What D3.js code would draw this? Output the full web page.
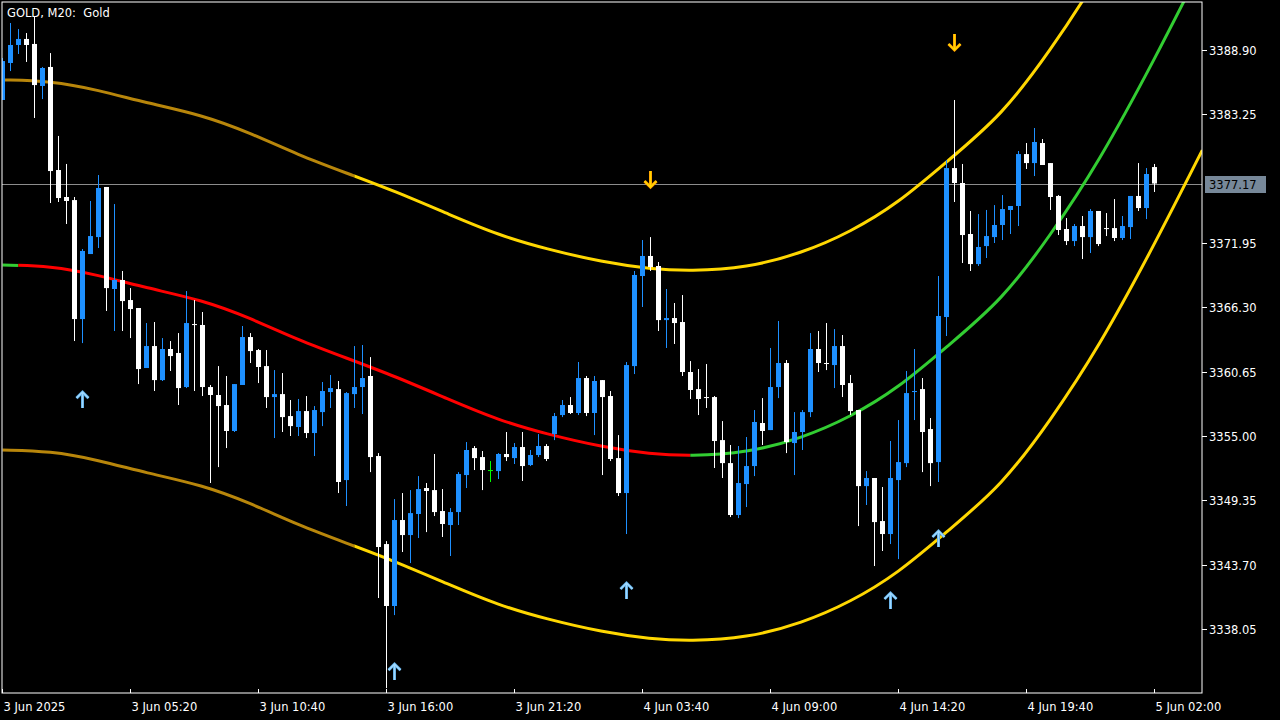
<!DOCTYPE html>
<html><head><meta charset="utf-8">
<script src="https://cdn.jsdelivr.net/npm/d3@7"></script>
<style>html,body{margin:0;background:#000;overflow:hidden}</style>
</head><body><svg id="c" width="1280" height="720"></svg>
<script>
const timeLabels = ["3 Jun 2025","3 Jun 05:20","3 Jun 10:40","3 Jun 16:00","3 Jun 21:20","4 Jun 03:40","4 Jun 09:00","4 Jun 14:20","4 Jun 19:40","5 Jun 02:00"];
const priceTicks = [3388.90,3383.25,3371.95,3366.30,3360.65,3355.00,3349.35,3343.70,3338.05];
const lastPrice = 3377.17;
const ohlc = [
[3384.51,3388.20,3384.51,3387.93],[3387.76,3391.27,3387.05,3389.34],[3389.34,3390.74,3388.55,3389.87],[3389.87,3390.39,3387.85,3389.34],
[3389.43,3391.88,3382.93,3385.82],[3385.74,3387.41,3384.59,3387.32],[3387.41,3388.63,3375.46,3378.27],[3378.36,3381.35,3375.55,3375.90],
[3375.99,3378.89,3373.62,3375.64],[3375.72,3375.99,3363.34,3365.27],[3365.27,3371.42,3363.16,3371.25],[3370.98,3375.64,3370.98,3372.56],
[3372.47,3377.92,3371.51,3376.78],[3376.87,3376.87,3365.98,3367.99],[3367.91,3375.37,3364.22,3368.70],[3368.70,3369.49,3364.22,3366.85],
[3366.94,3367.99,3363.60,3366.15],[3366.24,3366.24,3359.56,3360.88],[3360.97,3364.92,3360.97,3362.90],[3362.90,3365.01,3358.95,3359.91],
[3359.91,3363.60,3359.83,3362.64],[3362.64,3363.34,3360.71,3362.02],[3362.29,3364.04,3357.72,3359.21],[3359.30,3367.73,3359.21,3364.92],
[3364.83,3366.94,3358.95,3364.75],[3364.75,3365.89,3358.51,3359.30],[3359.30,3359.48,3350.87,3358.60],[3358.60,3361.14,3352.27,3357.63],
[3357.72,3360.27,3353.94,3355.44],[3355.44,3359.56,3355.35,3359.56],[3359.48,3364.66,3359.48,3363.69],[3363.69,3364.04,3361.41,3362.46],
[3362.55,3362.64,3359.65,3361.06],[3361.14,3362.55,3357.46,3358.42],[3358.42,3360.79,3354.82,3358.68],[3358.68,3360.53,3355.35,3356.66],
[3356.75,3358.16,3355.00,3355.87],[3355.79,3358.25,3355.00,3357.19],[3357.19,3358.51,3354.82,3355.26],[3355.26,3357.63,3353.24,3357.28],
[3357.10,3359.74,3355.87,3358.95],[3358.86,3360.36,3357.46,3359.21],[3359.12,3359.83,3349.99,3350.96],[3351.13,3358.86,3348.85,3358.77],
[3358.68,3362.90,3357.46,3359.30],[3359.30,3362.99,3356.93,3360.09],[3360.27,3361.93,3351.83,3353.15],[3353.24,3353.50,3340.77,3345.25],
[3345.51,3345.77,3332.86,3340.07],[3340.07,3349.46,3339.27,3347.62],[3347.62,3349.99,3344.81,3346.30],[3346.30,3350.25,3343.84,3348.23],
[3348.15,3351.48,3346.04,3350.34],[3350.43,3350.87,3346.56,3350.17],[3350.25,3353.42,3347.97,3348.32],[3348.41,3350.34,3346.13,3347.27],
[3347.18,3348.67,3344.46,3348.32],[3348.32,3351.83,3347.18,3351.66],[3351.57,3354.47,3350.43,3353.77],[3353.94,3354.12,3352.01,3353.06],
[3353.15,3353.68,3350.25,3352.01],[3352.01,3352.80,3350.96,3352.01],[3351.92,3353.50,3351.22,3353.42],[3353.42,3355.35,3352.80,3353.15],
[3353.06,3354.38,3352.54,3354.03],[3354.03,3355.35,3351.05,3352.36],[3352.45,3353.77,3352.36,3353.33],[3353.33,3355.17,3353.15,3354.12],
[3354.12,3354.29,3352.80,3352.98],[3355.17,3357.02,3354.64,3356.75],[3356.84,3358.16,3356.66,3357.72],[3357.72,3358.42,3356.93,3357.02],
[3357.02,3361.50,3356.84,3360.09],[3360.09,3360.27,3356.75,3357.02],[3357.02,3360.27,3355.08,3359.83],[3359.91,3359.91,3351.57,3358.42],
[3358.51,3358.95,3352.80,3352.98],[3353.06,3355.08,3349.73,3349.99],[3349.99,3361.50,3346.39,3361.23],[3361.14,3369.49,3360.44,3369.14],
[3369.05,3372.21,3366.33,3370.81],[3370.81,3372.47,3369.49,3369.84],[3369.93,3370.28,3364.22,3365.18],[3365.18,3367.91,3362.73,3365.36],
[3365.36,3366.68,3363.08,3364.92],[3365.01,3367.38,3360.27,3360.62],[3360.62,3361.58,3358.25,3359.04],[3359.12,3360.88,3356.84,3358.25],
[3358.42,3361.32,3357.46,3358.42],[3358.42,3358.51,3352.19,3354.56],[3354.64,3356.31,3351.31,3352.62],[3352.62,3354.21,3347.88,3348.06],
[3348.06,3354.12,3347.79,3350.87],[3350.78,3354.91,3348.76,3352.36],[3352.36,3357.28,3351.48,3356.23],[3356.14,3358.33,3354.21,3355.44],
[3355.52,3362.73,3355.52,3359.30],[3359.30,3365.10,3358.33,3361.41],[3361.41,3361.67,3353.50,3354.47],[3354.38,3357.10,3351.57,3355.35],
[3355.35,3357.28,3353.77,3357.10],[3357.10,3364.04,3356.66,3362.64],[3362.64,3364.22,3360.62,3361.41],[3361.41,3364.92,3360.79,3361.41],
[3361.23,3364.39,3359.21,3362.90],[3362.90,3363.87,3358.42,3359.48],[3359.65,3360.36,3356.84,3357.19],[3357.28,3357.28,3347.09,3350.60],
[3350.60,3351.92,3348.94,3351.31],[3351.31,3351.31,3343.58,3347.44],[3347.53,3350.52,3344.90,3346.39],[3346.39,3354.56,3345.51,3351.31],
[3351.13,3356.40,3344.19,3352.71],[3352.62,3360.71,3352.27,3358.77],[3358.86,3362.64,3356.40,3358.95],[3359.12,3360.09,3351.83,3355.35],
[3355.61,3356.58,3350.60,3352.62],[3352.71,3369.05,3350.96,3365.54],[3365.45,3379.24,3363.78,3378.53],[3378.53,3384.51,3375.55,3377.22],
[3377.22,3378.89,3370.19,3372.65],[3372.74,3374.76,3369.49,3370.10],[3370.10,3374.49,3369.93,3371.60],[3371.68,3374.85,3370.63,3372.56],
[3372.47,3375.28,3371.95,3373.53],[3373.53,3376.16,3372.21,3374.93],[3374.85,3375.20,3372.74,3375.20],[3375.20,3380.03,3373.44,3379.76],
[3379.76,3380.73,3378.45,3378.97],[3378.97,3382.05,3377.83,3380.82],[3380.73,3381.08,3378.80,3378.80],[3378.97,3378.97,3374.85,3375.99],
[3376.08,3376.16,3372.65,3373.09],[3373.18,3374.14,3371.77,3372.12],[3372.12,3373.62,3371.68,3373.44],[3373.44,3374.32,3370.54,3372.47],
[3372.47,3374.93,3371.07,3374.76],[3374.76,3374.76,3371.68,3371.86],[3373.26,3374.58,3372.56,3373.26],[3373.26,3375.81,3372.12,3372.39],
[3372.39,3374.32,3372.21,3373.44],[3373.35,3376.08,3372.30,3376.08],[3376.08,3378.97,3374.76,3375.02],[3375.02,3378.53,3374.05,3378.01],
[3378.62,3378.89,3376.43,3377.17]
];
const centerBars = [0,6,12,18,25,31,37,43,49,56,62,68,75,81,86,93,100,106,112,118,125,131,137,144,150];
const centerVals = [3370.02,3369.93,3369.14,3368.00,3366.94,3365.36,3363.43,3361.85,3360.27,3358.16,3356.40,3355.17,3354.03,3353.42,3353.24,3353.50,3354.82,3356.66,3359.21,3362.81,3366.94,3372.60,3378.97,3388.02,3396.36];
const bandDev = 16.25;
const upArrowBars = [10,49,78,111,117];
const downArrowBars = [81,119];

const svg = d3.select("#c");
const L=2, T=2, R=1202, B=693;
const x = d3.scaleLinear().domain([0,150]).range([2.3,1202.3]);
const y = d3.scaleLinear().domain([3338.05,3388.90]).range([629,50]);
const font = "DejaVu Sans, sans-serif";

svg.append("defs").append("clipPath").attr("id","plot").append("rect").attr("x",L).attr("y",T).attr("width",R-L).attr("height",B-T);
const segs = [[0,2,"#32cd32",0],[2,86,"#ff0000",0],[86,150,"#32cd32",0],[0,44,"#b8860b",1],[44,150,"#ffd700",1]];
const defs = svg.select("defs");
segs.forEach((s,i)=>{defs.append("clipPath").attr("id","seg"+i).append("rect").attr("x",x(s[0])).attr("y",0).attr("width",x(s[1])-x(s[0])).attr("height",720);});

const plot = svg.append("g").attr("clip-path","url(#plot)");
svg.append("rect").attr("x",L).attr("y",T).attr("width",R-L).attr("height",B-T).attr("fill","none").attr("stroke","#fff").attr("stroke-width",1);

plot.append("line").attr("x1",L).attr("x2",R).attr("y1",Math.round(y(lastPrice))+0.5).attr("y2",Math.round(y(lastPrice))+0.5).attr("stroke","#8c8c8c").attr("stroke-width",1);

const pts = centerBars.map((b,i)=>[b,centerVals[i]]);
const line = d3.line().x(d=>x(d[0])).y(d=>y(d[1])).curve(d3.curveBasis);
segs.forEach((s,i)=>{
  const g = plot.append("g").attr("clip-path","url(#seg"+i+")");
  if(s[3]===0){
    g.append("path").attr("d",line(pts)).attr("fill","none").attr("stroke",s[2]).attr("stroke-width",3);
  } else {
    [bandDev,-bandDev].forEach(dv=>g.append("path").attr("d",line(pts.map(p=>[p[0],p[1]+dv]))).attr("fill","none").attr("stroke",s[2]).attr("stroke-width",3));
  }
});

const up="#1e90ff", dn="#ffffff";
ohlc.forEach((c,i)=>{
  const [o,h,l,cl]=c;
  const col = cl>o?up:(cl<o?dn:(i===61?"#00ff00":dn));
  const cx = Math.round(x(i))+0.5;
  plot.append("line").attr("x1",cx).attr("x2",cx).attr("y1",y(h)).attr("y2",y(l)).attr("stroke",col).attr("stroke-width",1);
  const t=Math.min(y(o),y(cl)), b=Math.max(y(o),y(cl));
  plot.append("rect").attr("x",cx-2.5).attr("y",t).attr("width",5).attr("height",Math.max(1,b-t)).attr("fill",col);
});

function arrow(cx,cy,dir,col,edge){
  const g=plot.append("g").attr("transform",`translate(${cx},${cy}) scale(1,${dir})`);
  g.append("path").attr("d","M0,-8 L0,8 M-6,-2 L0,-8 L6,-2").attr("fill","none").attr("stroke",edge).attr("stroke-width",3);
  g.append("path").attr("d","M0,-8 L0,8 M-6,-2 L0,-8 L6,-2").attr("fill","none").attr("stroke",col).attr("stroke-width",1.5);
}
upArrowBars.forEach(b=>arrow(Math.round(x(b))+0.5, y(ohlc[b][2])+57, 1, "#9fd8ff","#5aa8e0"));
downArrowBars.forEach(b=>arrow(Math.round(x(b))+0.5, y(ohlc[b][1])-58, -1, "#ffd700","#ff9a00"));

priceTicks.forEach(p=>{
  const yy=Math.round(y(p))+0.5;
  svg.append("line").attr("x1",R).attr("x2",R+5).attr("y1",yy).attr("y2",yy).attr("stroke","#fff");
  svg.append("text").attr("x",R+7).attr("y",yy+4).attr("fill","#fff").attr("font-family",font).attr("font-size",11.5).text(p.toFixed(2));
});
const ly=Math.round(y(lastPrice));
svg.append("rect").attr("x",R+3).attr("y",ly-8).attr("width",61).attr("height",17).attr("fill","#778899");
svg.append("text").attr("x",R+7).attr("y",ly+5).attr("fill","#000").attr("font-family",font).attr("font-size",11.5).text(lastPrice.toFixed(2));

timeLabels.forEach((t,i)=>{
  const xx=Math.round(x(i*16))+0.5;
  svg.append("line").attr("x1",xx).attr("x2",xx).attr("y1",B).attr("y2",B-4).attr("stroke","#fff");
  svg.append("text").attr("x",xx+1).attr("y",711).attr("fill","#fff").attr("font-family",font).attr("font-size",11.5).text(t);
});
svg.append("text").attr("x",7).attr("y",17).attr("fill","#fff").attr("font-family",font).attr("font-size",11.5).attr("xml:space","preserve").style("white-space","pre").text("GOLD, M20:  Gold");
</script></body></html>
